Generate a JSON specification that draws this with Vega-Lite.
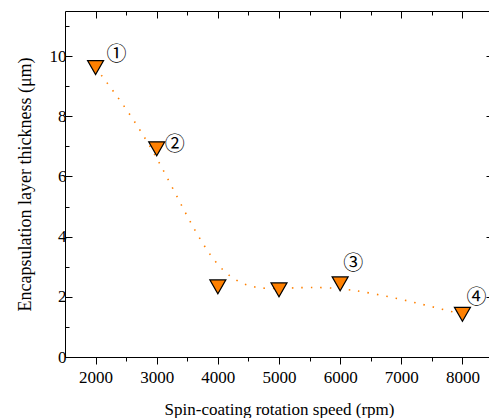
{
  "$schema": "https://vega.github.io/schema/vega-lite/v6.json",
  "autosize": {"type": "none"},
  "padding": {"left": 65, "top": 11, "right": 0, "bottom": 61},
  "width": 428,
  "height": 346,
  "background": "white",
  "config": {
    "view": {"stroke": null},
    "axis": {
      "grid": false,
      "domainColor": "black",
      "domainWidth": 1,
      "tickColor": "black",
      "tickWidth": 1,
      "labelColor": "black",
      "titleColor": "black",
      "labelFont": "Liberation Serif",
      "titleFont": "Liberation Serif",
      "labelFontSize": 17,
      "titleFontWeight": "normal"
    }
  },
  "data": {
    "values": [
      {"speed": 2000, "thickness": 9.62, "label": "①"},
      {"speed": 3000, "thickness": 6.92, "label": "②"},
      {"speed": 4000, "thickness": 2.33, "label": ""},
      {"speed": 5000, "thickness": 2.23, "label": ""},
      {"speed": 6000, "thickness": 2.43, "label": "③"},
      {"speed": 8000, "thickness": 1.42, "label": "④"}
    ]
  },
  "encoding": {
    "x": {"field": "speed", "type": "quantitative", "axis": null, "scale": {"domain": [1500, 8500], "nice": false, "zero": false}},
    "y": {"field": "thickness", "type": "quantitative", "axis": null, "scale": {"domain": [0, 11.5], "nice": false}}
  },
  "layer": [
    {
      "mark": {"type": "line", "interpolate": "basis", "color": "#FF8000", "strokeWidth": 1.6, "strokeDash": [1.5, 8], "strokeCap": "butt"},
      "encoding": {
        "x": {
          "field": "speed", "type": "quantitative",
          "axis": {
            "orient": "bottom",
            "title": "Spin-coating rotation speed (rpm)",
            "titleFont": "Liberation Serif",
            "titleFontSize": 17,
            "titlePadding": 16,
            "values": [2000, 2500, 3000, 3500, 4000, 4500, 5000, 5500, 6000, 6500, 7000, 7500, 8000],
            "labelExpr": "datum.value % 1000 == 0 ? '' + datum.value : ''",
            "labelFont": "Liberation Serif",
            "labelFontSize": 17,
            "labelPadding": 5,
            "tickSize": 7,
            "tickDash": {"condition": {"test": "datum.value % 1000 == 0", "value": []}, "value": [4, 20]}
          }
        },
        "y": {
          "field": "thickness", "type": "quantitative",
          "axis": {
            "orient": "left",
            "title": "Encapsulation layer thickness (μm)",
            "titleFont": "Liberation Serif",
            "titleFontSize": 18,
            "titlePadding": 15,
            "values": [0, 1, 2, 3, 4, 5, 6, 7, 8, 9, 10, 11],
            "labelExpr": "datum.value % 2 == 0 ? datum.label : ''",
            "labelFont": "Liberation Serif",
            "labelFontSize": 17,
            "labelPadding": 6,
            "tickSize": -7,
            "tickDash": {"condition": {"test": "datum.value % 2 == 0", "value": []}, "value": [4, 20]}
          }
        }
      }
    },
    {
      "mark": {"type": "point", "shape": "M-1,-0.875L1,-0.875L0,0.875Z", "size": 256, "filled": true, "fill": "#FF8000", "stroke": "black", "strokeWidth": 1.2, "opacity": 1}
    },
    {
      "transform": [{"filter": "datum.label == '①'"}],
      "mark": {"type": "text", "font": "Noto Sans CJK JP", "fontSize": 20, "color": "black", "align": "center", "baseline": "middle", "dx": 21, "dy": -13},
      "encoding": {"text": {"field": "label"}}
    },
    {
      "transform": [{"filter": "datum.label == '②'"}],
      "mark": {"type": "text", "font": "Noto Sans CJK JP", "fontSize": 20, "color": "black", "align": "center", "baseline": "middle", "dx": 18, "dy": -4},
      "encoding": {"text": {"field": "label"}}
    },
    {
      "transform": [{"filter": "datum.label == '③'"}],
      "mark": {"type": "text", "font": "Noto Sans CJK JP", "fontSize": 20, "color": "black", "align": "center", "baseline": "middle", "dx": 13, "dy": -20},
      "encoding": {"text": {"field": "label"}}
    },
    {
      "transform": [{"filter": "datum.label == '④'"}],
      "mark": {"type": "text", "font": "Noto Sans CJK JP", "fontSize": 20, "color": "black", "align": "center", "baseline": "middle", "dx": 14, "dy": -16},
      "encoding": {"text": {"field": "label"}}
    },
    {
      "mark": {"type": "point", "opacity": 0},
      "encoding": {
        "x": {
          "field": "speed", "type": "quantitative",
          "axis": {
            "orient": "top", "title": null, "labels": false,
            "values": [2000, 2500, 3000, 3500, 4000, 4500, 5000, 5500, 6000, 6500, 7000, 7500, 8000],
            "tickSize": -7,
            "tickDash": {"condition": {"test": "datum.value % 1000 == 0", "value": []}, "value": [4, 20]}
          }
        },
        "y": {
          "field": "thickness", "type": "quantitative",
          "axis": {
            "orient": "right", "title": null, "labels": false,
            "values": [0, 1, 2, 3, 4, 5, 6, 7, 8, 9, 10, 11],
            "tickSize": -7,
            "tickDash": {"condition": {"test": "datum.value % 2 == 0", "value": []}, "value": [4, 20]}
          }
        }
      }
    }
  ],
  "resolve": {"axis": {"x": "independent", "y": "independent"}}
}
